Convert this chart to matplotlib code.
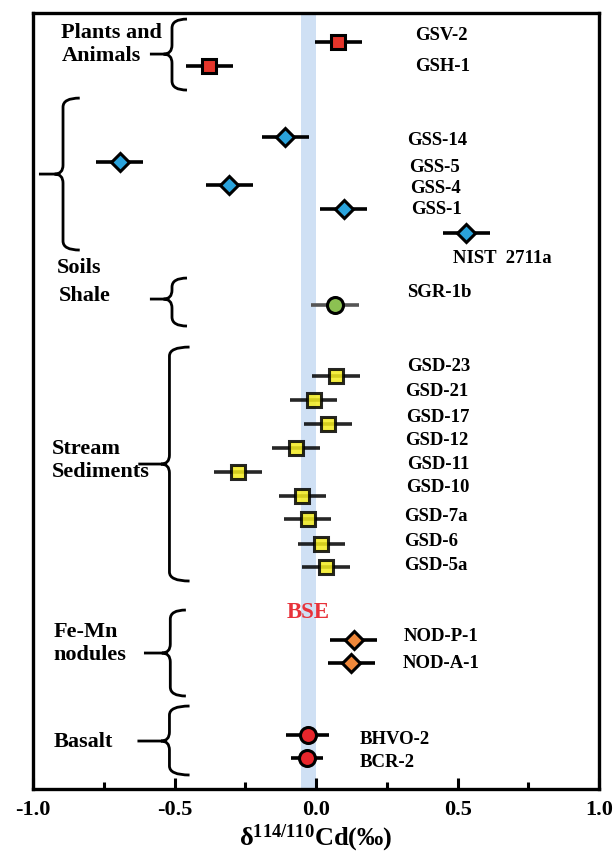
import matplotlib
matplotlib.use("Agg")
import matplotlib.pyplot as plt
from matplotlib.path import Path
from matplotlib.patches import PathPatch
from matplotlib.ticker import MultipleLocator

plt.rcParams['font.family'] = 'serif'
plt.rcParams['font.serif'] = ['Liberation Serif', 'DejaVu Serif']
plt.rcParams['font.weight'] = 'bold'
plt.rcParams['mathtext.fontset'] = 'custom'
plt.rcParams['mathtext.rm'] = 'Liberation Serif:bold'
plt.rcParams['mathtext.it'] = 'Liberation Serif:bold:italic'
plt.rcParams['mathtext.bf'] = 'Liberation Serif:bold'

# samples: name, delta value, 2SD, row (top -> bottom)
names = ['GSV-2', 'GSH-1',
         'GSS-14', 'GSS-5', 'GSS-4', 'GSS-1', 'NIST 2711a',
         'SGR-1b',
         'GSD-23', 'GSD-21', 'GSD-17', 'GSD-12', 'GSD-11', 'GSD-10', 'GSD-7a', 'GSD-6', 'GSD-5a',
         'NOD-P-1', 'NOD-A-1',
         'BHVO-2', 'BCR-2']
values = [0.078, -0.378,
          -0.109, -0.693, -0.306, 0.098, 0.531,
          0.067,
          0.070, -0.009, 0.043, -0.071, -0.275, -0.048, -0.030, 0.019, 0.035,
          0.133, 0.125,
          -0.030, -0.032]
errors = [0.083, 0.083,
          0.083, 0.083, 0.083, 0.083, 0.083,
          0.085,
          0.084, 0.084, 0.084, 0.084, 0.084, 0.084, 0.084, 0.084, 0.084,
          0.084, 0.084,
          0.076, 0.056]
rows = [42, 66,
        137, 162, 185, 209, 233,
        305,
        376, 400, 424, 448, 472, 496, 519, 544, 567,
        640, 663,
        735, 758]
groups = ['plant'] * 2 + ['soil'] * 5 + ['shale'] + ['sed'] * 9 + ['nod'] * 2 + ['basalt'] * 2

# label placement (x, row)
label_x = [0.349, 0.349,
           0.321, 0.328, 0.331, 0.335, 0.482,
           0.321,
           0.321, 0.316, 0.318, 0.316, 0.321, 0.318, 0.312, 0.312, 0.312,
           0.308, 0.306,
           0.153, 0.153]
label_row = [35, 66,
             140, 167, 188, 209, 258,
             292,
             366, 391, 417, 440, 464, 487, 516, 541, 565,
             636, 663,
             739, 762]

styles = {
    'plant': dict(marker='s', mfc='#e5352b', ms=9.5, alpha=1.0),
    'soil': dict(marker='D', mfc='#2aa3dc', ms=9, alpha=1.0),
    'shale': dict(marker='o', mfc='#8cc152', ms=11.5, alpha=1.0),
    'sed': dict(marker='s', mfc='#f4ec1e', ms=9.5, alpha=0.85),
    'nod': dict(marker='D', mfc='#f0883a', ms=9, alpha=1.0),
    'basalt': dict(marker='o', mfc='#e8262c', ms=11.5, alpha=1.0),
}

group_names = ['Plants and\nAnimals', 'Soils', 'Shale', 'Stream\nSediments', 'Fe-Mn\nnodules', 'Basalt']
group_label_x = [-0.90, -0.917, -0.91, -0.935, -0.928, -0.927]
group_label_row = [44, 268, 296, 460, 643, 742]
# braces: x of spine, x of ends, x of tip, top row, bottom row, tip row
braces = [(-0.509, -0.456, -0.587, 19, 90, 54),
          (-0.894, -0.835, -0.979, 98, 250, 174),
          (-0.509, -0.456, -0.587, 278, 326, 299),
          (-0.518, -0.447, -0.628, 347, 581, 464),
          (-0.515, -0.460, -0.608, 610, 696, 653),
          (-0.518, -0.447, -0.631, 706, 775, 741)]

bse_band = (-0.055, 0.0)


def draw_brace(ax, xv, xe, xt, yt, yb, ym, r=9, dx=0.03):
    verts = [(xe, yt), (xv, yt), (xv, yt + r),
             (xv, ym - r), (xv, ym), (xv - dx, ym),
             (xt, ym),
             (xv - dx, ym), (xv, ym), (xv, ym + r),
             (xv, yb - r), (xv, yb), (xe, yb)]
    codes = [Path.MOVETO, Path.CURVE3, Path.CURVE3,
             Path.LINETO, Path.CURVE3, Path.CURVE3,
             Path.LINETO,
             Path.MOVETO, Path.CURVE3, Path.CURVE3,
             Path.LINETO, Path.CURVE3, Path.CURVE3]
    ax.add_patch(PathPatch(Path(verts, codes), fill=False, lw=2, ec='black',
                           capstyle='butt', joinstyle='round'))


fig = plt.figure(figsize=(6.16, 8.66), dpi=100)
ax = fig.add_axes([0.0536, 0.0889, 0.919, 0.896])

ax.axvspan(bse_band[0], bse_band[1], color='#cfe0f4', lw=0, zorder=1)
ax.text(sum(bse_band) / 2, 612, 'BSE', color='#e8323a', fontsize=16.5, fontweight='bold',
        ha='center', va='center', zorder=6)

for v, e, y, g, n in zip(values, errors, rows, groups, names):
    st = styles[g]
    ecol = '#555555' if g == 'shale' else 'black'
    ax.errorbar(v, y, xerr=e, fmt='none', ecolor=ecol, elinewidth=2.6, capsize=0,
                alpha=st['alpha'], zorder=3)
    ax.plot(v, y, ls='none', marker=st['marker'], ms=st['ms'], mfc=st['mfc'],
            mec='black', mew=2.2, alpha=st['alpha'], zorder=4)

for n, x, y in zip(names, label_x, label_row):
    ax.text(x, y, n.replace(' ', '  '), fontsize=13.5, fontweight='bold', va='center', ha='left')

for n, x, y in zip(group_names, group_label_x, group_label_row):
    ax.text(x, y, n, fontsize=16, fontweight='bold', va='center', ha='left', linespacing=1.2)

for b in braces:
    draw_brace(ax, *b)

ax.set_xlim(-1.0, 1.0)
ax.set_ylim(789, 13)
ax.set_yticks([])
ax.xaxis.set_major_locator(MultipleLocator(0.5))
ax.xaxis.set_minor_locator(MultipleLocator(0.25))
ax.set_xticks([-1.0, -0.5, 0.0, 0.5, 1.0])
ax.set_xticklabels(['-1.0', '-0.5', '0.0', '0.5', '1.0'])
ax.tick_params(axis='x', which='major', direction='in', length=8, width=2.2,
               labelsize=16, pad=8, top=False)
ax.tick_params(axis='x', which='minor', direction='in', length=5, width=2.2, top=False)
for lbl in ax.get_xticklabels():
    lbl.set_fontweight('bold')
for s in ax.spines.values():
    s.set_linewidth(2.4)
ax.set_xlabel('δ$^{114/110}$Cd(‰)', fontsize=19, fontweight='bold', labelpad=2)

fig.savefig('out.png', dpi=100)
